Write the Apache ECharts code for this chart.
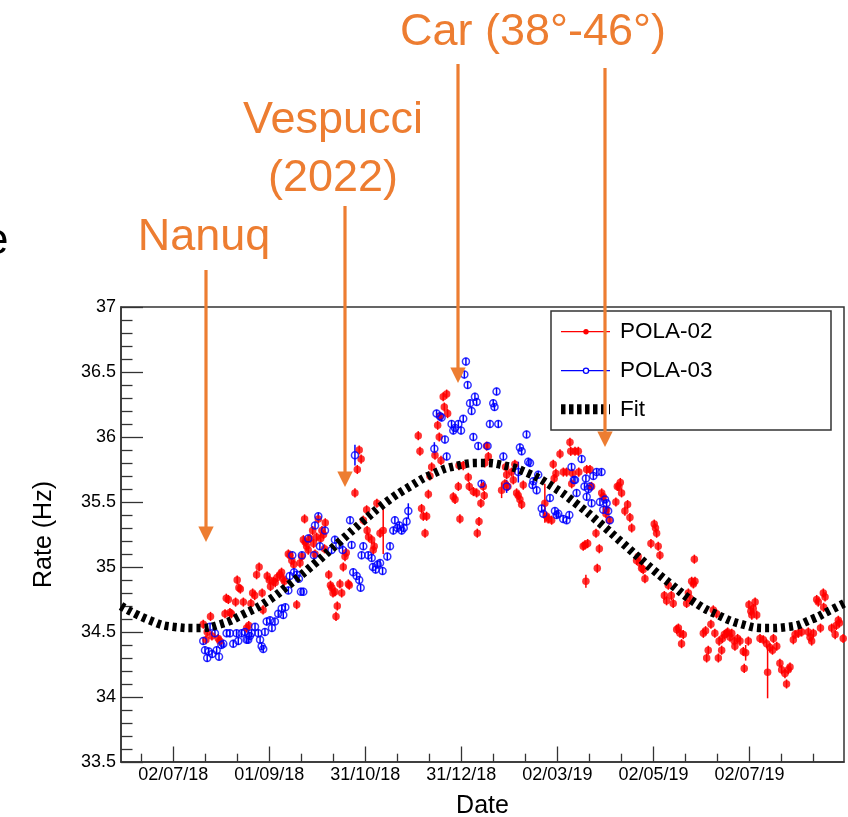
<!DOCTYPE html>
<html>
<head>
<meta charset="utf-8">
<script src="https://cdn.jsdelivr.net/npm/echarts@6/dist/echarts.min.js"></script>
<style>
  html, body { margin: 0; padding: 0; background: #fff; }
  #chart { width: 848px; height: 817px; }
</style>
</head>
<body>
<div id="chart"></div>
<script>
// Time is counted in days from the 02/07/18 tick.
const dateTickLabels = ['02/07/18', '01/09/18', '31/10/18', '31/12/18', '02/03/19', '02/05/19', '02/07/19'];
const dateTickDays = [0, 60.83, 121.67, 182.5, 243.33, 304.17, 365];
const dateMinorDays = [-20.28, 20.28, 40.56, 81.11, 101.39, 141.94, 162.22, 202.78, 223.06,
                       263.61, 283.89, 324.44, 344.72, 385.28, 405.56];
const dayMin = -33.1;
const dayMax = 424.9;

// Rate ticks (Hz)
const rateMin = 33.5, rateMax = 37, rateStep = 0.5;

// [day, rate (Hz), optional error (Hz)]
const pola02 = [
  [19.0,34.56],[20.7,34.44],[21.5,34.50],[23.6,34.62],[24.5,34.47],[28.5,34.45],[29.5,34.43],
  [32.8,34.64],[33.6,34.76],[34.9,34.75],[35.9,34.65],[36.8,34.64],[39.5,34.73],[40.5,34.90],
  [41.6,34.84],[42.5,34.83],[44.4,34.73],[46.5,34.53],[47.8,34.55],[49.2,34.72],[50.3,34.80],
  [51.6,34.78],[52.8,34.94],[54.4,35.00],[56.3,34.80],[56.9,34.67],[59.5,34.93],[60.8,34.90],
  [61.6,34.85],[63.4,34.89],[64.6,34.88],[65.8,34.92],[67.5,34.94],[68.6,34.96],[69.6,34.91],
  [70.4,34.89],[72.9,35.10],[74.0,35.09],[75.1,35.05],[76.3,35.02],[78.2,34.71],[80.3,35.03],
  [81.4,35.08],[82.4,35.21],[83.2,35.37],[83.6,35.19],[84.5,35.16],[85.5,35.13],[86.6,35.22],
  [88.3,35.28],[88.9,35.18],[89.8,35.10],[90.8,35.23],[91.9,35.37],[93.4,35.22],[94.2,35.28],
  [95.2,35.25],[95.8,35.14],[96.3,35.34],[98.5,34.94],[99.6,34.86],[100.4,34.84],[101.2,34.80],
  [102.4,34.81],[103.1,34.62],[103.9,34.70],[105.6,34.87],[106.7,34.80],[107.7,35.00],[108.8,35.08],
  [109.6,35.11],[110.9,34.87],[111.5,34.86],[115.1,35.57],[116.6,35.75],[117.8,35.90],[119.0,35.83],
  [120.4,35.36],[122.5,35.44],[122.8,35.28],[123.7,35.23],[125.7,35.21],[126.7,35.13],[127.3,35.16],
  [129.0,35.49],[131.0,35.26],[133.0,35.28,0.18],
  [155.2,36.01],[156.3,35.89],[157.3,35.45],[158.4,35.39],[159.5,35.26],[160.5,35.39],[161.6,35.56],
  [162.6,35.70],[163.7,35.77],[165.8,35.86],[167.5,36.09],[168.5,36.00],[169.0,36.16],[169.6,35.82],
  [171.0,36.31],[171.7,36.23],[173.2,36.33],[173.8,36.18],[177.4,35.54],[178.5,35.52],[180.6,35.62],
  [181.0,35.78],[181.6,35.37],[183.7,35.78],[186.9,35.69],[187.5,35.62],[190.1,35.58],[192.2,35.57],
  [192.6,35.26],[193.7,35.35],[194.9,35.49],[196.4,35.62],[197.0,35.55],[197.4,35.80],[198.5,35.93],
  [199.6,35.85],
  [208.0,35.59,0.06],[210.1,35.64],[210.5,35.77],[211.2,35.71],[212.0,35.62],[214.3,35.73],[215.4,35.67],
  [216.4,35.79],[217.5,35.57],[218.5,35.55],[219.6,35.52],[220.7,35.48],[221.7,35.63],
  [235.4,35.49,0.15],[236.5,35.39],[237.5,35.37],[239.7,35.36],[240.7,35.79],[241.3,35.68],[242.4,35.72],
  [245.0,35.87],[247.1,35.73],[249.2,35.73],[251.3,35.96],[251.8,35.89],[252.4,35.64],[253.0,35.72],
  [254.5,35.89],[256.6,35.89],[256.9,35.73],[259.7,35.16],[260.8,35.17],[261.4,34.89,0.05],[261.9,35.75],
  [262.5,35.18],[264.0,35.75],[265.0,35.62],[267.8,35.26],[268.6,34.99],[269.9,35.14],[271.4,35.57],
  [272.4,35.54],[274.1,35.41],[274.5,35.44],[276.2,35.36],[280.4,35.50],[281.3,35.62],
  [282.3,35.62],[283.2,35.65],[284.0,35.57],[286.1,35.43],[287.8,35.48],[289.3,35.38],[290.4,35.30],
  [293.5,35.05],[294.5,35.08],[295.6,35.03],[296.7,34.99],[297.7,34.98],[298.8,34.91],[302.6,35.18],
  [304.7,35.33],[305.5,35.30],[306.2,35.26],[307.2,35.16],[308.3,35.09],[311.1,34.78],[312.5,34.74],
  [313.6,34.86],[315.5,34.78],[316.7,34.72],[318.9,34.52],[320.0,34.53],[321.0,34.49],[322.0,34.41],
  [323.1,34.48],[325.2,34.72],[326.3,34.80],[327.3,34.76],[328.4,34.89],[329.5,34.87],[330.1,35.06],
  [330.5,34.89],[335.8,34.49],[337.2,34.51],[337.9,34.30],[338.9,34.36],[340.6,34.56],[342.1,34.67],
  [343.1,34.49],[344.2,34.64],[345.3,34.30],[345.8,34.43],[347.4,34.36],[347.9,34.45],[349.1,34.48],
  [350.6,34.49],[351.2,34.50],[352.7,34.46],[353.8,34.49],[355.4,34.43],[355.8,34.39],[357.5,34.45],
  [359.0,34.43],[361.1,34.35],[361.7,34.22],[362.6,34.34,0.06],[364.3,34.43],[364.7,34.71],[365.9,34.66],
  [366.5,34.63],[367.4,34.68],[368.6,34.73],[369.6,34.63],[371.7,34.45],[373.8,34.44],[375.9,34.41],
  [376.5,34.19,0.2],[378.0,34.38],[379.6,34.36],[380.2,34.45],[382.3,34.39],[384.3,34.26],[385.4,34.21],
  [387.5,34.18],[388.5,34.10],[389.6,34.21],[390.7,34.23],[392.8,34.44],[393.9,34.48],[396.0,34.49],
  [398.1,34.50],[402.3,34.50],[403.4,34.46],[404.4,34.43],[405.5,34.49],[407.6,34.75],[408.6,34.73],
  [410.0,34.53],[411.8,34.80],[412.0,34.69],[412.9,34.77],[417.1,34.53],[419.3,34.48],[420.0,34.55],
  [421.3,34.59],[422.0,34.57],[424.4,34.45]
];

const pola03 = [
  [19.0,34.43],[20.1,34.36],[21.5,34.30],[22.5,34.35],[23.3,34.54],[24.6,34.33],[26.4,34.49],
  [27.5,34.36],[29.0,34.31],[30.5,34.40],[31.7,34.41],[33.8,34.49],[35.9,34.49],[38.0,34.41],
  [40.1,34.49],[41.2,34.43],[43.3,34.49],[45.4,34.50],[46.5,34.44],[47.5,34.44],[48.5,34.47],
  [49.6,34.49],[51.8,34.54],[53.9,34.49],[55.0,34.44],[56.0,34.39],[57.0,34.37],[58.1,34.50],
  [59.2,34.58],[61.3,34.59],[62.5,34.53],[64.4,34.58],[66.5,34.64],[68.7,34.68],[69.7,34.63],
  [71.0,34.69],[72.9,34.82],[73.8,34.93],[75.4,35.09],[76.5,34.96],[78.2,34.94],[79.6,34.91],
  [80.9,34.81],[81.5,35.09],[82.4,34.81],[85.5,35.22],[89.1,35.09],[89.8,35.32],[91.9,35.39],
  [92.9,35.16],[96.1,35.28],[100.3,35.13],[102.4,35.21],[105.2,35.17],[107.3,35.13],[112.0,35.36],
  [113.0,35.17],[114.0,34.96],[115.1,35.86,0.08],[116.2,34.93],[117.8,34.90],[118.7,34.84],
  [119.3,35.09],[120.4,35.16],[123.5,35.09],[125.7,35.07],[126.5,35.00],[128.2,34.98],[129.5,35.02],
  [131.0,35.03],[132.6,34.97],[135.6,35.08],[137.3,35.16],[139.4,35.28],[140.4,35.36],[142.0,35.30],
  [143.2,35.32],[144.7,35.28],[146.0,35.30],[147.8,35.35],[148.9,35.43,0.06],
  [165.4,35.91,0.05],[166.8,36.18],[169.0,36.16],[170.0,36.15],[172.1,35.98],[173.2,35.85],[176.3,36.10],
  [177.4,36.05],[178.5,36.07],[180.6,36.10],[182.3,36.05],[183.7,36.14],[184.4,36.48],[185.4,36.58],
  [186.5,36.40],[188.0,36.26],[189.0,36.20],[190.1,36.00],[191.1,36.31],[192.2,36.27],[193.2,35.93],
  [195.3,35.64],[199.1,35.93],[200.6,36.10],[202.7,36.26],[203.5,36.23],[204.8,36.35],[205.9,36.10],
  [209.1,35.85],[211.2,35.62,0.05],
  [218.6,35.73,0.08],[219.6,35.92],[220.7,35.89],[223.8,36.02],[224.9,35.81],[226.0,35.80],[227.6,35.63],
  [228.1,35.66],[230.2,35.59],[231.2,35.71],[233.4,35.45],[234.4,35.41],[238.6,35.53],[241.8,35.43],
  [242.9,35.40],[243.9,35.41],[247.0,35.37],[249.2,35.36],[250.9,35.40],[252.3,35.77],[253.8,35.67],
  [254.5,35.67],[255.5,35.57],[258.7,35.83],[260.5,35.62],[261.4,35.68],[261.9,35.54],[263.0,35.60],
  [264.0,35.62],[265.0,35.49],[266.1,35.70],[268.2,35.73],[270.3,35.50],[271.3,35.73],[272.4,35.44],
  [273.5,35.52],[274.5,35.49],[275.5,35.43],[276.6,35.36]
];
const errPola02 = 0.035;
const errPola03 = 0.03;

// Seasonal fit, sampled along the date axis
const fitCurve = [
  [-33.1,34.70],[-15,34.59],[0,34.54],[15,34.53],[30,34.56],[45,34.64],[60,34.74],[75,34.88],
  [90,35.03],[105,35.19],[120,35.35],[135,35.50],[150,35.62],[165,35.72],[180,35.78],[195,35.80],
  [210,35.78],[225,35.72],[240,35.62],[255,35.49],[270,35.34],[285,35.18],[300,35.02],[315,34.87],
  [330,34.73],[345,34.63],[360,34.56],[375,34.53],[390,34.54],[405,34.60],[415,34.66],[424.9,34.72]
];

// Vessel campaigns marked above the plot
const campaigns = [
  { lines: ['Nanuq'], textX: 204, textY: [238], x: 206, lineTop: 270, tip: 542 },
  { lines: ['Vespucci', '(2022)'], textX: 333, textY: [121, 179], x: 345, lineTop: 206, tip: 487 },
  { lines: ['Car (38°-46°)'], textX: 533, textY: [33], x: 458, lineTop: 64, tip: 383 },
  { lines: [], textX: 0, textY: [], x: 605, lineTop: 68, tip: 447 }
];

const legendEntries = ['POLA-02', 'POLA-03', 'Fit'];

const FONT = '"Liberation Sans", Arial, Helvetica, sans-serif';
const ORANGE = '#ED7D31';
const FRAME = '#333333';

const chart = echarts.init(document.getElementById('chart'), null, { renderer: 'canvas' });

function errorBars(points, defErr, color) {
  return {
    type: 'custom',
    xAxisIndex: 0, yAxisIndex: 0,
    silent: true,
    z: 2,
    data: points.map(p => [p[0], p[1], p.length > 2 ? p[2] : defErr]),
    encode: { x: 0, y: 1 },
    renderItem: (params, api) => {
      const x = api.value(0), y = api.value(1), e = api.value(2);
      const lo = api.coord([x, y - e]);
      const hi = api.coord([x, y + e]);
      return {
        type: 'line',
        shape: { x1: lo[0], y1: lo[1], x2: hi[0], y2: hi[1] },
        style: { stroke: color, lineWidth: 1.5 }
      };
    }
  };
}

const graphics = [];

// legend box
const lgX = 551, lgY = 311, lgW = 280, lgH = 119;
const rowY = [331.7, 370.7, 409.3];
graphics.push({
  type: 'rect', z: 50,
  shape: { x: lgX, y: lgY, width: lgW, height: lgH },
  style: { fill: '#fff', stroke: FRAME, lineWidth: 1.5 }
});
graphics.push({ type: 'line', z: 51, shape: { x1: 561, y1: rowY[0], x2: 610, y2: rowY[0] }, style: { stroke: '#ff0000', lineWidth: 1.2 } });
graphics.push({ type: 'circle', z: 52, shape: { cx: 586, cy: rowY[0], r: 2.7 }, style: { fill: '#ff0000' } });
graphics.push({ type: 'line', z: 51, shape: { x1: 561, y1: rowY[1], x2: 610, y2: rowY[1] }, style: { stroke: '#0000ff', lineWidth: 1.2 } });
graphics.push({ type: 'circle', z: 52, shape: { cx: 586, cy: rowY[1], r: 2.6 }, style: { fill: '#fff', stroke: '#0000ff', lineWidth: 1.3 } });
graphics.push({ type: 'line', z: 51, shape: { x1: 561, y1: rowY[2], x2: 610, y2: rowY[2] }, style: { stroke: '#000', lineWidth: 10, lineDash: [4.5, 3.5] } });
legendEntries.forEach((t, i) => {
  graphics.push({
    type: 'text', z: 52,
    style: { text: t, x: 620, y: rowY[i], fill: '#000', font: '22.5px ' + FONT, textAlign: 'left', textVerticalAlign: 'middle' }
  });
});

// campaign arrows and labels
campaigns.forEach(c => {
  graphics.push({
    type: 'line', z: 100,
    shape: { x1: c.x, y1: c.lineTop, x2: c.x, y2: c.tip - 14 },
    style: { stroke: ORANGE, lineWidth: 3.2 }
  });
  graphics.push({
    type: 'polygon', z: 100,
    shape: { points: [[c.x - 7.7, c.tip - 15.5], [c.x + 7.7, c.tip - 15.5], [c.x, c.tip]] },
    style: { fill: ORANGE }
  });
  c.lines.forEach((t, i) => {
    graphics.push({
      type: 'text', z: 100,
      style: { text: t, x: c.textX, y: c.textY[i], fill: ORANGE,
               font: '45px ' + FONT, textAlign: 'center', textVerticalAlign: 'middle' }
    });
  });
});

// slide text clipped at the left border
graphics.push({
  type: 'text', z: 100,
  style: { text: 'e', x: 8.5, y: 242, fill: '#000', font: '44px ' + FONT, textAlign: 'right', textVerticalAlign: 'middle' }
});

const option = {
  animation: false,
  backgroundColor: '#fff',
  grid: {
    left: 121, top: 307, width: 723, height: 455,
    containLabel: false, outerBoundsMode: 'none',
    show: true, borderColor: FRAME, borderWidth: 1.5, backgroundColor: '#fff'
  },
  xAxis: [
    {
      type: 'value', min: dayMin, max: dayMax, position: 'bottom',
      name: 'Date', nameLocation: 'middle', nameGap: 32,
      nameTextStyle: { fontFamily: FONT, fontSize: 25, color: '#000' },
      axisLine: { show: true, onZero: false, lineStyle: { color: FRAME, width: 1.5 } },
      axisTick: { show: true, inside: true, length: 15.5, customValues: dateTickDays, lineStyle: { color: FRAME, width: 1.3 } },
      axisLabel: {
        show: true, customValues: dateTickDays, margin: 4,
        fontFamily: FONT, fontSize: 18, color: '#000',
        formatter: v => {
          const i = dateTickDays.findIndex(d => Math.abs(d - v) < 0.01);
          return i >= 0 ? dateTickLabels[i] : '';
        }
      },
      splitLine: { show: false }
    },
    {
      type: 'value', min: dayMin, max: dayMax, position: 'top', offset: -455,
      axisLine: { show: false },
      axisTick: { show: true, inside: false, length: 8.3, customValues: dateMinorDays, lineStyle: { color: FRAME, width: 1.3 } },
      axisLabel: { show: false },
      splitLine: { show: false }
    }
  ],
  yAxis: {
    type: 'value', min: rateMin, max: rateMax, interval: rateStep,
    name: 'Rate (Hz)', nameLocation: 'middle', nameGap: 64, nameRotate: 90,
    nameTextStyle: { fontFamily: FONT, fontSize: 25, color: '#000' },
    axisLine: { show: true, onZero: false, lineStyle: { color: FRAME, width: 1.5 } },
    axisTick: { show: true, inside: true, length: 22, lineStyle: { color: FRAME, width: 1.3 } },
    minorTick: { show: true, splitNumber: 5, length: 11.5, lineStyle: { color: FRAME, width: 1.3 } },
    axisLabel: { margin: 5, fontFamily: FONT, fontSize: 18, color: '#000' },
    splitLine: { show: false }
  },
  series: [
    errorBars(pola02, errPola02, '#ff0000'),
    {
      name: 'POLA-02', type: 'scatter', z: 3,
      data: pola02.map(p => [p[0], p[1]]),
      symbol: 'circle', symbolSize: 7.5,
      itemStyle: { color: '#ff0000' }
    },
    errorBars(pola03, errPola03, '#0000ff'),
    {
      name: 'POLA-03', type: 'scatter', z: 4,
      data: pola03.map(p => [p[0], p[1]]),
      symbol: 'circle', symbolSize: 7,
      itemStyle: { color: 'rgba(255,255,255,0)', borderColor: '#0000ff', borderWidth: 1.5 }
    },
    {
      name: 'Fit', type: 'line', z: 5,
      data: fitCurve, smooth: true, showSymbol: false, clip: true,
      lineStyle: { color: '#000', width: 8.5, type: [4, 4] }
    }
  ],
  graphic: graphics
};

chart.setOption(option);
</script>
</body>
</html>
